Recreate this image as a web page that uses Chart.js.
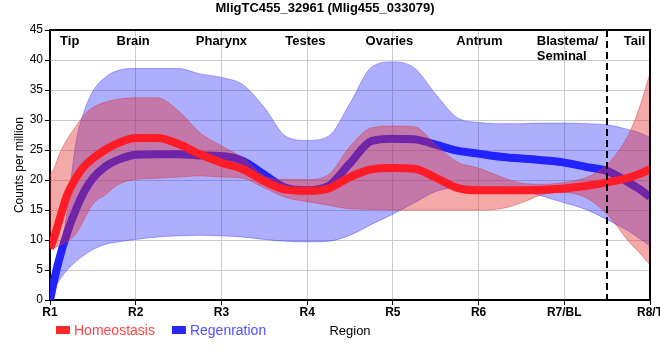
<!DOCTYPE html>
<html>
<head>
<meta charset="utf-8">
<script src="https://cdn.jsdelivr.net/npm/chart.js@4.4.1/dist/chart.umd.min.js"></script>
<style>
  html, body { margin: 0; padding: 0; background: #fff; }
  #wrap { width: 660px; height: 360px; }
</style>
</head>
<body>
<div id="wrap"><canvas id="c" width="660" height="360"></canvas></div>
<script>
// ---- data ----
const regionPos = [1, 1.05, 1.1, 1.2, 1.3, 1.4, 1.5, 1.65, 1.8, 2, 2.25, 2.5, 2.75, 3, 3.25, 3.5, 3.75, 4, 4.25, 4.5, 4.75, 5, 5.25, 5.5, 5.75, 6, 6.25, 6.5, 6.75, 7, 7.25, 7.5, 7.75, 7.875, 8];

const homeostasis   = [8.6, 10.5, 12.9, 17.5, 20.3, 22.3, 23.6, 25.1, 26.2, 27.0, 27.0, 26.0, 24.3, 22.9, 21.8, 19.8, 18.4, 18.2, 18.6, 20.5, 21.8, 22.0, 21.9, 20.4, 18.7, 18.3, 18.3, 18.3, 18.4, 18.6, 19.0, 19.6, 20.4, 21.0, 21.8];
const homeostasisHi = [20.9, 22.0, 24.0, 26.8, 28.9, 30.9, 32.1, 33.0, 33.5, 33.7, 33.7, 31.5, 27.9, 25.7, 23.7, 20.7, 20.1, 20.1, 20.9, 25.6, 28.7, 29.0, 28.9, 25.9, 23.0, 22.0, 20.6, 19.5, 19.3, 19.6, 20.4, 22.6, 27.6, 32.0, 37.8];
const homeostasisLo = [8.5, 8.7, 9.0, 9.8, 11.0, 13.5, 16.0, 17.6, 19.3, 20.1, 20.3, 20.5, 20.7, 20.5, 20.3, 18.7, 17.1, 16.4, 15.8, 15.2, 15.1, 15.0, 15.0, 15.0, 15.0, 15.0, 15.2, 16.2, 17.6, 17.9, 17.1, 14.3, 9.8, 7.9, 5.9];

const regeneration   = [0, 3.4, 6.4, 11.2, 15.0, 18.1, 20.3, 22.3, 23.4, 24.2, 24.3, 24.3, 24.1, 24.0, 23.2, 20.9, 18.7, 18.3, 19.0, 22.8, 26.5, 26.9, 26.8, 25.9, 24.9, 24.4, 23.9, 23.6, 23.3, 22.9, 22.2, 21.5, 19.6, 18.5, 17.2];
const regenerationHi = [0, 2.3, 6.2, 14.8, 26.0, 31.5, 34.8, 37.2, 38.3, 38.6, 38.6, 38.6, 37.7, 37.1, 35.9, 32.1, 27.3, 26.6, 27.3, 32.8, 38.8, 39.7, 38.7, 34.3, 30.4, 29.6, 29.4, 29.4, 29.5, 29.5, 29.4, 29.2, 28.4, 27.9, 27.1];
const regenerationLo = [0, 1.8, 3.1, 5.0, 6.4, 7.5, 8.4, 9.3, 9.7, 10.1, 10.5, 10.7, 10.8, 10.7, 10.5, 10.1, 9.8, 9.7, 9.8, 10.8, 12.6, 14.3, 16.2, 18.1, 18.8, 18.9, 18.8, 18.3, 17.3, 16.2, 15.1, 13.4, 11.5, 10.3, 9.0];

const tickLabels = ['R1', 'R2', 'R3', 'R4', 'R5', 'R6', 'R7/BL', 'R8/T'];
const regionNames = ['Tip', 'Brain', 'Pharynx', 'Testes', 'Ovaries', 'Antrum', 'Blastema/\nSeminal', 'Tail'];
const regionAt = [1.23, 1.97, 3.0, 3.98, 4.96, 6.01, 6.68, 7.82];
const dividerAt = 7.5;
const seriesNames = ['Homeostasis', 'Regenration'];

// ---- build ----
const pts = arr => arr.map((v, i) => ({ x: regionPos[i], y: v }));
const FONT = '"Liberation Sans", Arial, Helvetica, sans-serif';
Chart.defaults.font.family = FONT;
Chart.defaults.color = '#000';

const legendStyle = [
  { box: 'rgb(255,40,40)', text: 'rgb(255,70,70)' },
  { box: 'rgb(40,40,245)', text: 'rgb(80,80,255)' }
];

const overlay = {
  id: 'overlay',
  afterDatasetsDraw(chart) {
    const { ctx, chartArea: a, scales: { x } } = chart;
    ctx.save();
    // dashed divider
    const dx = Math.round(x.getPixelForValue(dividerAt));
    ctx.strokeStyle = '#000';
    ctx.lineWidth = 2;
    ctx.setLineDash([7, 4]);
    ctx.beginPath();
    ctx.moveTo(dx, a.top);
    ctx.lineTo(dx, a.bottom + 5);
    ctx.stroke();
    ctx.setLineDash([]);
    // top and right frame
    ctx.beginPath();
    ctx.moveTo(a.left - 1, a.top);
    ctx.lineTo(a.right, a.top);
    ctx.lineTo(a.right, a.bottom + 1);
    ctx.stroke();
    // region names
    ctx.font = 'bold 13px ' + FONT;
    ctx.fillStyle = '#000';
    ctx.textBaseline = 'middle';
    regionNames.forEach((name, i) => {
      const lines = name.split('\n');
      const px = x.getPixelForValue(regionAt[i]);
      ctx.textAlign = lines.length > 1 ? 'left' : 'center';
      lines.forEach((ln, j) => ctx.fillText(ln, px, a.top + 11 + j * 15));
    });
    ctx.restore();
  },
  afterDraw(chart) {
    const { ctx } = chart;
    ctx.save();
    ctx.font = '14px ' + FONT;
    ctx.textBaseline = 'middle';
    ctx.textAlign = 'left';
    let cx = 56;
    seriesNames.forEach((name, i) => {
      ctx.fillStyle = legendStyle[i].box;
      ctx.fillRect(cx, 326, 14, 8);
      ctx.fillStyle = legendStyle[i].text;
      ctx.fillText(name, cx + 18, 331);
      cx += 18 + ctx.measureText(name).width + 17;
    });
    ctx.restore();
  }
};

new Chart(document.getElementById('c'), {
  type: 'line',
  data: {
    datasets: [
      { label: seriesNames[0], data: pts(homeostasis), borderColor: 'rgb(255,28,38)', borderWidth: 8,
        pointRadius: 0, fill: false, cubicInterpolationMode: 'monotone', borderCapStyle: 'butt', order: 1 },
      { label: 'Homeostasis upper', data: pts(homeostasisHi), borderColor: 'rgba(215,60,60,0.45)', borderWidth: 1,
        backgroundColor: 'rgba(228,40,40,0.4)', pointRadius: 0, fill: '+1', cubicInterpolationMode: 'monotone', order: 2 },
      { label: 'Homeostasis lower', data: pts(homeostasisLo), borderColor: 'rgba(215,60,60,0.45)', borderWidth: 1,
        pointRadius: 0, fill: false, cubicInterpolationMode: 'monotone', order: 2 },
      { label: seriesNames[1], data: pts(regeneration), borderColor: 'rgb(35,35,255)', borderWidth: 8,
        pointRadius: 0, fill: false, cubicInterpolationMode: 'monotone', borderCapStyle: 'butt', order: 3 },
      { label: 'Regenration upper', data: pts(regenerationHi), borderColor: 'rgba(70,70,255,0.45)', borderWidth: 1,
        backgroundColor: 'rgba(30,30,255,0.36)', pointRadius: 0, fill: '+1', cubicInterpolationMode: 'monotone', order: 4 },
      { label: 'Regenration lower', data: pts(regenerationLo), borderColor: 'rgba(70,70,255,0.45)', borderWidth: 1,
        pointRadius: 0, fill: false, cubicInterpolationMode: 'monotone', order: 4 }
    ]
  },
  options: {
    responsive: false,
    animation: false,
    devicePixelRatio: 1,
    layout: { padding: { left: 0, right: 10, top: 0, bottom: 0 } },
    plugins: {
      legend: { display: false },
      tooltip: { enabled: false },
      title: {
        display: true,
        text: 'MligTC455_32961 (Mlig455_033079)',
        font: { size: 13, weight: 'bold' },
        color: '#000',
        padding: { top: 0.5, bottom: 14 }
      }
    },
    scales: {
      x: {
        type: 'linear', min: 1, max: 8,
        afterFit(s) { s.height = 60; s.paddingLeft = 0; s.paddingRight = 0; },
        ticks: {
          stepSize: 1, autoSkip: false, maxRotation: 0, padding: 0,
          font: { size: 12, weight: 'bold' }, color: '#000',
          callback: v => tickLabels[Math.round(v) - 1]
        },
        grid: { color: '#cbcbcb', tickColor: '#000', tickLength: 5, lineWidth: 1 },
        border: { display: true, color: '#000', width: 2 },
        title: { display: true, text: 'Region', font: { size: 13 }, color: '#000', padding: { top: 0, bottom: 20.5 } }
      },
      y: {
        min: 0, max: 45,
        afterFit(s) { s.width = 50; },
        ticks: { stepSize: 5, padding: 2, font: { size: 12 }, color: '#000' },
        grid: { color: '#cbcbcb', tickColor: '#000', tickLength: 5, lineWidth: 1 },
        border: { display: true, color: '#000', width: 2 },
        title: { display: true, text: 'Counts per million', font: { size: 12 }, color: '#000', padding: { top: 12.8, bottom: 0 } }
      }
    }
  },
  plugins: [overlay]
});
</script>
</body>
</html>
